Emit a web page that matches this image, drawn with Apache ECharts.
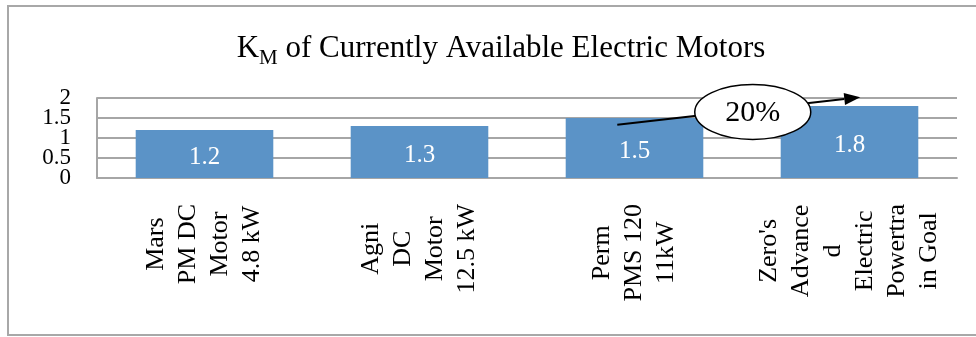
<!DOCTYPE html>
<html>
<head>
<meta charset="utf-8">
<script src="https://cdn.jsdelivr.net/npm/echarts@6/dist/echarts.min.js"></script>
<style>
html,body{margin:0;padding:0;background:#fff;}
#chart{width:976px;height:337px;}
</style>
</head>
<body>
<div id="chart"></div>
<script>
// ---- data ----
const categoryLines = [
  ["Mars", "PM DC", "Motor", "4.8 kW"],
  ["Agni", "DC", "Motor", "12.5 kW"],
  ["Perm", "PMS 120", "11kW"],
  ["Zero's", "Advance", "d", "Electric", "Powertra", "in Goal"]
];
const values = [1.2, 1.3, 1.5, 1.8];
const yMin = 0, yMax = 2, yStep = 0.5;
const yLabelsWhole = [0, 1, 2];
const yLabelsHalf = [0.5, 1.5];
const titleMain = "K";
const titleSub = "M";
const titleRest = " of Currently Available Electric Motors";
const annotationText = "20%";
// annotation anchors in data space: [category position, value]
const arrowFrom = [1.92, 1.33];
const arrowTo = [3.05, 2.02];
const bubbleAt = [2.55, 1.65];

const FONT = "Liberation Serif";
const CAT_FS = 26;
const CAT_LH = 32;
const CAT_GAP = 26;
const GRAY = "#a6a6a6";
const categories = categoryLines.map(l => l.join("\n"));

const yLabelStyle = {fontFamily: FONT, fontSize: 23, color: '#000', margin: 26};

const chart = echarts.init(document.getElementById('chart'));
chart.setOption({
  animation: false,
  backgroundColor: '#fff',
  title: {
    text: '{k|' + titleMain + '}{m|' + titleSub + '}{t|' + titleRest + '}',
    left: 496, top: 26, textAlign: 'center',
    textStyle: {
      fontWeight: 'normal',
      rich: {
        k: {fontFamily: FONT, fontSize: 31, fontWeight: 'normal', color: '#000', lineHeight: 36, verticalAlign: 'middle'},
        t: {fontFamily: FONT, fontSize: 31, fontWeight: 'normal', color: '#000', lineHeight: 36, verticalAlign: 'middle'},
        m: {fontFamily: FONT, fontSize: 21, fontWeight: 'normal', color: '#000', lineHeight: 19, verticalAlign: 'top', padding: [17, 0, 0, 0]}
      }
    }
  },
  grid: {left: 97, right: 19, top: 98, bottom: 159},
  xAxis: {
    type: 'category',
    data: categories,
    axisTick: {show: false},
    axisLine: {lineStyle: {color: GRAY, width: 2}},
    axisLabel: {show: false}
  },
  yAxis: [{
    type: 'value',
    min: yMin, max: yMax, interval: yStep,
    axisLine: {show: true, lineStyle: {color: GRAY, width: 2}},
    axisTick: {show: false},
    splitLine: {lineStyle: {color: GRAY, width: 2}},
    axisLabel: Object.assign({customValues: yLabelsWhole, showMinLabel: true, showMaxLabel: true}, yLabelStyle)
  }, {
    type: 'value', position: 'left',
    min: yMin, max: yMax, interval: yStep,
    axisLine: {show: false},
    axisTick: {show: false},
    splitLine: {show: false},
    axisLabel: Object.assign({customValues: yLabelsHalf}, yLabelStyle)
  }],
  series: [{
    type: 'bar',
    yAxisIndex: 0,
    data: values,
    barWidth: '64%',
    itemStyle: {color: '#5b93c7'},
    label: {
      show: true, position: 'inside', offset: [0, 3],
      fontFamily: FONT, fontSize: 25, color: '#fff'
    }
  }]
});

// pixel helper using the chart's own scales
function px(cat, val) {
  const p0 = chart.convertToPixel({xAxisIndex: 0, yAxisIndex: 0}, [0, val]);
  const p1 = chart.convertToPixel({xAxisIndex: 0, yAxisIndex: 0}, [1, val]);
  return [p0[0] + (p1[0] - p0[0]) * cat, p0[1]];
}

// category labels: rotated, lines centred on each other, block ending just below the axis
const mctx = document.createElement('canvas').getContext('2d');
mctx.font = CAT_FS + 'px "' + FONT + '"';
const catGraphics = categoryLines.map((lines, i) => {
  const W = Math.max.apply(null, lines.map(s => mctx.measureText(s).width));
  const p = px(i, yMin);
  return {
    type: 'text', x: p[0], y: p[1] + CAT_GAP + W / 2, rotation: Math.PI / 2, z: 50,
    style: {text: categories[i], fontFamily: FONT, fontSize: CAT_FS, lineHeight: CAT_LH,
            fill: '#000', align: 'center', verticalAlign: 'middle'}
  };
});

const A = px(arrowFrom[0], arrowFrom[1]);
const B = px(arrowTo[0], arrowTo[1]);
const C = px(bubbleAt[0], bubbleAt[1]);
const dx = B[0] - A[0], dy = B[1] - A[1];
const len = Math.sqrt(dx * dx + dy * dy);
const ux = dx / len, uy = dy / len, nx = -uy, ny = ux;
const headL = 16, headW = 6;
const base = [B[0] - ux * headL, B[1] - uy * headL];

chart.setOption({
  graphic: catGraphics.concat([
    {type: 'rect', shape: {x: 8, y: 6, width: 1000, height: 329},
     style: {fill: 'none', stroke: '#a8a8a8', lineWidth: 2}, z: 100, silent: true},
    {type: 'line', shape: {x1: A[0], y1: A[1], x2: base[0], y2: base[1]},
     style: {stroke: '#000', lineWidth: 2}, z: 101},
    {type: 'polygon', shape: {points: [B, [base[0] + nx * headW, base[1] + ny * headW], [base[0] - nx * headW, base[1] - ny * headW]]},
     style: {fill: '#000'}, z: 101},
    {type: 'ellipse', shape: {cx: C[0], cy: C[1], rx: 58, ry: 27.5},
     style: {fill: '#fff', stroke: '#000', lineWidth: 1.5}, z: 102},
    {type: 'text', x: C[0], y: C[1] + 1, z: 103,
     style: {text: annotationText, fontFamily: FONT, fontSize: 30, fill: '#000', align: 'center', verticalAlign: 'middle'}}
  ])
});
</script>
</body>
</html>
